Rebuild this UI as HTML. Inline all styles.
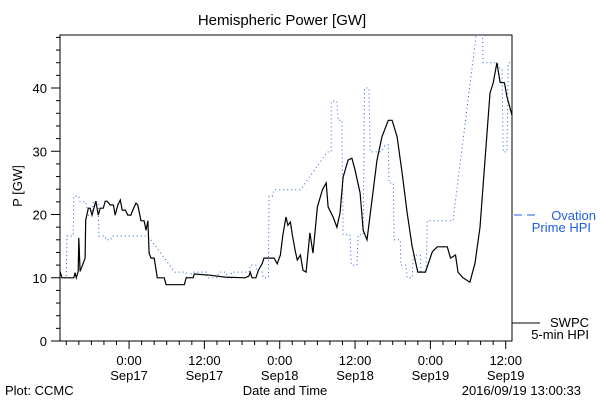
<!DOCTYPE html>
<html><head><meta charset="utf-8"><style>
html,body{margin:0;padding:0;background:#fff;}
svg{display:block;font-family:"Liberation Sans",sans-serif;}
</style></head><body>
<svg id="chart" width="600" height="400" viewBox="0 0 600 400" xmlns="http://www.w3.org/2000/svg">
<rect width="600" height="400" fill="#fff"/>
<text x="282" y="25" font-size="15" text-anchor="middle">Hemispheric Power [GW]</text>
<text transform="translate(22,186) rotate(-90)" font-size="13" text-anchor="middle">P [GW]</text>
<rect x="60" y="35" width="452" height="306" fill="none" stroke="#000" stroke-width="1"/>
<g id="axes"></g>
<g id="series"></g>
<g>
<line x1="514" y1="215" x2="540" y2="215" stroke="#1f5fe8" stroke-dasharray="8,5"/>
<text x="596" y="220" font-size="13" fill="#1f5fe8" text-anchor="end">Ovation</text>
<text x="591" y="232" font-size="13" fill="#1f5fe8" text-anchor="end">Prime HPI</text>
<line x1="512" y1="323" x2="540" y2="323" stroke="#000"/>
<text x="589" y="327" font-size="13" text-anchor="end">SWPC</text>
<text x="589" y="339" font-size="13" text-anchor="end">5-min HPI</text>
</g>
<text x="5" y="395" font-size="13">Plot: CCMC</text>
<text x="285" y="395" font-size="13" text-anchor="middle">Date and Time</text>
<text x="581" y="395" font-size="13" text-anchor="end">2016/09/19 13:00:33</text>
</svg>
<script>
// hours relative to 2016-09-17 00:00
const swpcHours=[-11,-10.7,-8.8,-8.6,-8.4,-8.1,-8.0,-7.8,-7.6,-7.0,-6.9,-6.5,-6.2,-5.9,-5.6,-5.3,-4.9,-4.6,-4.1,-3.8,-3.5,-3.0,-2.5,-2.2,-1.8,-1.4,-1.1,-0.6,-0.2,0.3,0.6,1.1,1.4,1.9,2.4,2.7,3.0,3.2,3.5,4.0,4.5,5.6,5.9,8.8,9.1,10.2,10.4,12.9,15.3,18.5,19.1,19.3,19.6,20.2,20.6,21.2,21.5,23.1,23.6,24.1,24.5,25.0,25.3,25.7,26.0,26.5,26.8,27.3,27.7,28.2,28.8,29.3,30.0,30.8,31.4,31.7,32.5,33.1,33.6,34.1,34.9,35.5,36.0,36.8,37.3,37.9,38.7,39.5,40.3,41.3,41.9,42.7,43.5,44.3,45.1,46.0,47.2,48.3,49.1,50.7,51.2,52.0,52.4,53.2,54.3,55.1,55.9,56.7,57.5,58.0,58.6,59.1,59.8,60.2,61.0];
const swpcValues=[11,10,10,10.8,10,11,16.3,11,11.5,13.1,19.1,21,21,19.9,21,22.1,19.9,21,21,22.1,22.1,21.5,21.5,19.9,21.5,22.3,20.7,20.7,19.9,19.9,20.7,21.8,21.5,19,19,17.5,19,13.9,13.1,13.1,10,10,8.9,8.9,10,10,10.6,10.4,10.1,10,10.3,10.9,10,10,11.2,12.2,13.1,13.1,12.2,13.6,16.8,19.6,18.3,18.8,16.8,14.1,12.8,13.6,11.2,10.9,17.1,13.9,21.2,23.9,25.0,21.2,19.6,18.0,20.2,25.9,28.6,28.9,27.0,23.4,17.5,16.0,22.3,28.6,32.3,34.9,34.9,32.3,26.6,20.2,14.9,10.9,10.9,14.1,14.9,14.9,13.1,13.6,10.9,10.0,9.3,12.3,18.0,28.6,39.2,40.8,44.0,40.9,40.8,38.6,35.7];
const ovationHours=[-11,-10.0,-9.9,-8.9,-8.8,-8.0,-7.8,-6.9,-6.5,-5.9,-5.7,-4.9,-4.8,-3.8,-3.7,-2.9,-2.7,3.0,7.3,9.1,9.2,9.7,10.0,12.3,12.4,14.0,14.3,15.5,15.6,16.3,16.3,19.1,19.3,20.2,20.4,21.2,21.4,22.2,22.3,22.8,23.1,27.3,31.6,32.2,32.2,33.1,33.3,33.9,34.1,35.2,35.4,36.3,36.5,37.3,37.5,38.2,38.4,40.2,40.8,41.3,41.4,42.1,42.2,43.2,43.3,44.1,44.3,45.1,45.3,46.4,46.5,47.3,47.5,51.6,55.3,56.3,56.4,58.6,59.1,59.4,59.6,60.2,60.4,61];
const ovationValues=[10,10,16.6,16.6,22.9,22.9,22.0,22.0,19.9,19.9,22.0,22.0,16.6,16.6,16.0,16.0,16.6,16.6,10.9,10.9,10,10,10.9,10.9,10,10,10.9,10.9,10,10,10.9,10.9,12,12,10.9,10.9,10,10,22.9,22.9,23.9,23.9,29.9,29.9,37.9,37.9,34.9,34.9,16.8,16.8,12.0,12.0,16.8,16.8,40.0,40.0,29.9,29.9,31.0,31.0,25.0,25.0,16.0,16.0,12.0,12.0,10,10,13.6,13.6,10.9,10.9,19.0,19.0,48.4,48.4,44.0,44.0,43.0,43.0,29.9,29.9,44.0,44.0];
const yTicks=[0,10,20,30,40];
const xTickHours=[0,12,24,36,48,60];
const xTickTimes=["0:00","12:00","0:00","12:00","0:00","12:00"];
const xTickDates=["Sep17","Sep17","Sep18","Sep18","Sep19","Sep19"];

const X0=60,X1=512,Y0=341,Y1=35,TMIN=-11,TMAX=61,VMAX=48.38;
function xs(t){return X0+(t-TMIN)/(TMAX-TMIN)*(X1-X0);}
function ys(v){return Y0-v/VMAX*(Y0-Y1);}
const NS="http://www.w3.org/2000/svg";
const axes=document.getElementById('axes'),series=document.getElementById('series');
function mk(tag,attrs,parent){const e=document.createElementNS(NS,tag);for(const k in attrs)e.setAttribute(k,attrs[k]);parent.appendChild(e);return e;}
for(let v=0;v<=48;v+=2){
  const major=v%10===0;
  const l=mk('line',{x1:major?51:56,x2:60,y1:ys(v),y2:ys(v),stroke:'#000'},axes);
  
  
}
yTicks.forEach(v=>{
  const t=mk('text',{x:47,y:ys(v)+5,'font-size':13,'text-anchor':'end'},axes);
  
  
  t.textContent=v;
});
for(let h=-10;h<=60;h+=2){
  const major=h%12===0;
  const l=mk('line',{x1:xs(h),x2:xs(h),y1:341,y2:major?349:345,stroke:'#000'},axes);
  
  
}
xTickHours.forEach((h,i)=>{
  const a=mk('text',{x:xs(h),y:365,'font-size':13,'text-anchor':'middle'},axes);
  
  
  a.textContent=xTickTimes[i];
  const b=mk('text',{x:xs(h),y:380,'font-size':13,'text-anchor':'middle'},axes);
  
  
  b.textContent=xTickDates[i];
});
const op=mk('polyline',{points:ovationHours.map((h,i)=>xs(h).toFixed(1)+','+ys(ovationValues[i]).toFixed(1)).join(' '),fill:'none',stroke:'#1f5fe8','stroke-width':1,'stroke-dasharray':'1,3'},series);


const sp=mk('polyline',{points:swpcHours.map((h,i)=>xs(h).toFixed(1)+','+ys(swpcValues[i]).toFixed(1)).join(' '),fill:'none',stroke:'#000','stroke-width':1.2},series);


</script>
</body></html>
